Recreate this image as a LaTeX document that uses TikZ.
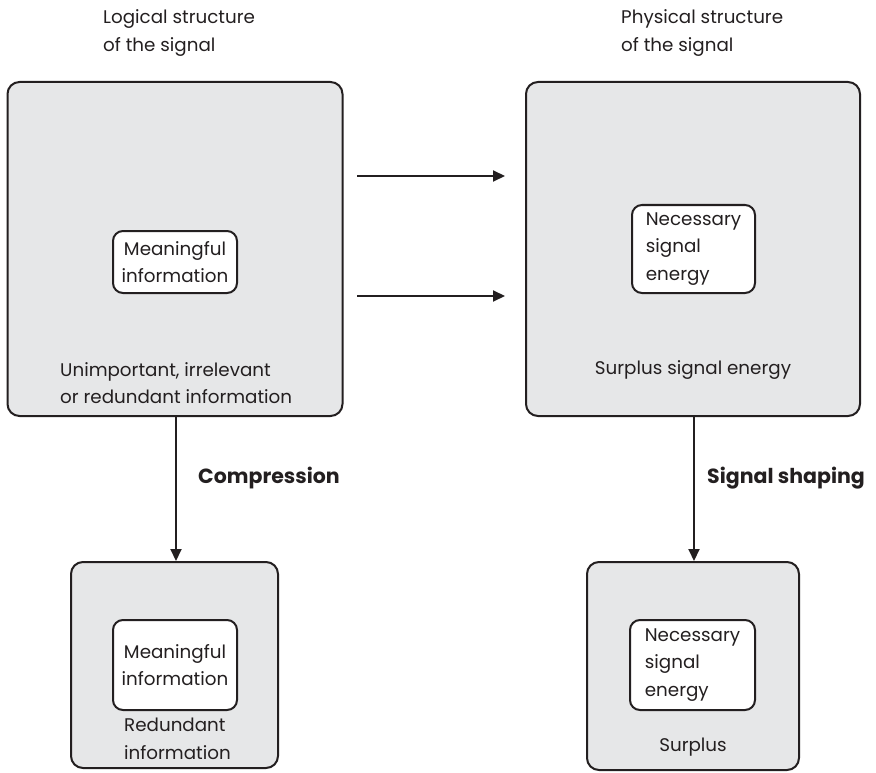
\documentclass[tikz,border=0pt]{standalone}
\usepackage{fontspec}
\setmainfont{Poppins}
\usetikzlibrary{arrows.meta}
\definecolor{ink}{HTML}{231F20}
\definecolor{panel}{HTML}{E6E7E8}
\begin{document}
\begin{tikzpicture}[x=1pt,y=-1pt,
  outer/.style={draw=ink,line width=2pt,fill=panel,rounded corners=12pt,inner sep=0pt},
  inner/.style={draw=ink,line width=2pt,fill=white,rounded corners=10pt,inner sep=0pt},
  lbl/.style={font=\fontsize{18.3}{27.5}\selectfont,text=ink,inner sep=0pt},
  boldlbl/.style={font=\fontsize{20.5}{27}\selectfont\bfseries,text=ink,inner sep=0pt,anchor=west},
  flow/.style={draw=ink,line width=2pt,-{Triangle[length=12pt,width=11pt]}}]
\useasboundingbox (0,0) rectangle (876,773);
% top-level panels
\node[outer,minimum width=335pt,minimum height=334pt] (logic) at (175,249) {};
\node[outer,minimum width=334pt,minimum height=334pt] (phys) at (693,249) {};
\node[inner,minimum width=124pt,minimum height=62pt] (mean) at (175,262) {};
\node[inner,minimum width=123pt,minimum height=88pt] (nec) at (693.5,249) {};
% lower panels
\node[outer,minimum width=207pt,minimum height=206pt] (comp) at (174.5,665) {};
\node[outer,minimum width=212pt,minimum height=208pt] (shape) at (693,666) {};
\node[inner,minimum width=124pt,minimum height=90pt] (mean2) at (175,665) {};
\node[inner,minimum width=125pt,minimum height=90pt] (nec2) at (692.5,665) {};
% titles
\node[lbl,anchor=west,align=left] (tlogic) at (103,33) {Logical structure\\of the signal};
\node[lbl,anchor=west,align=left] (tphys) at (621,33) {Physical structure\\of the signal};
% texts in panels
\node[lbl,align=center] (meantxt) at (mean.center) {Meaningful\\information};
\node[lbl,align=left] (nectxt) at (nec.center) {Necessary\\signal\\energy};
\node[lbl,align=left,anchor=west] (unimp) at (60,383) {Unimportant, irrelevant\\or redundant information};
\node[lbl] (surpsig) at (693,370) {Surplus signal energy};
\node[lbl,align=center] (meantxt2) at (mean2.center) {Meaningful\\information};
\node[lbl,align=left] (nectxt2) at (nec2.center) {Necessary\\signal\\energy};
\node[lbl,align=left,anchor=west] (redund) at (124,739) {Redundant\\information};
\node[lbl] (surp) at (693,747) {Surplus};
% connectors
\coordinate (a1s) at (357,176);
\coordinate (a1e) at (505,176);
\coordinate (a2s) at (357,296);
\coordinate (a2e) at (505,296);
\draw[flow] (a1s) -- (a1e);
\draw[flow] (a2s) -- (a2e);
\draw[flow] ([xshift=1pt]logic.south) -- ([xshift=1pt]logic.south |- comp.north);
\draw[flow] ([xshift=1pt]phys.south) -- ([xshift=1pt]phys.south |- shape.north);
\node[boldlbl] (lcomp) at (198,478) {Compression};
\node[boldlbl] (lshape) at (707,478) {Signal shaping};
\end{tikzpicture}
\end{document}
